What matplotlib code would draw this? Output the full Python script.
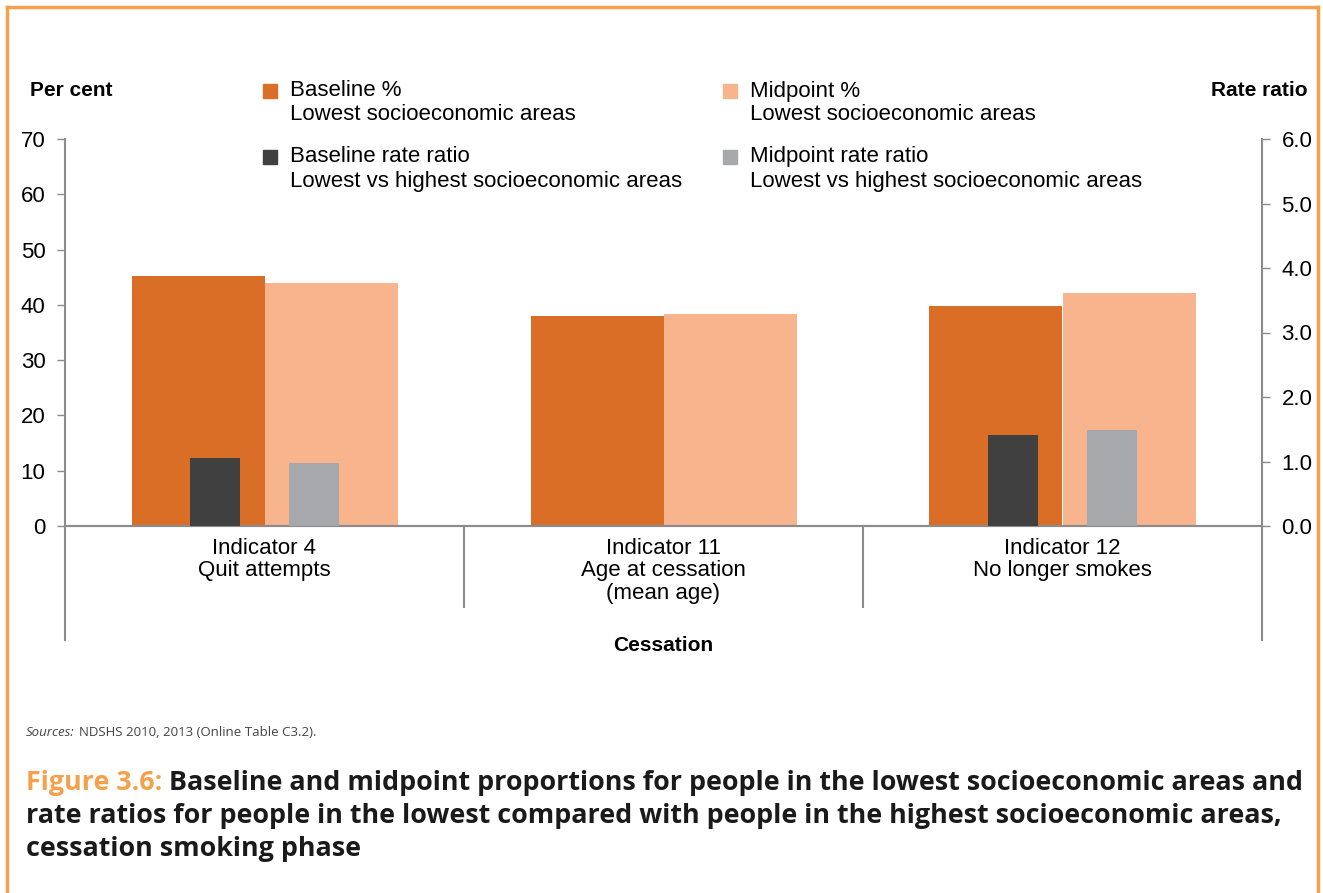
import numpy as np
import matplotlib
matplotlib.use('Agg')
import matplotlib.pyplot as plt
from matplotlib.patches import Rectangle
from matplotlib.lines import Line2D
import matplotlib.transforms as mtransforms

# data
categories = ['Indicator 4\nQuit attempts', 'Indicator 11\nAge at cessation\n(mean age)',
              'Indicator 12\nNo longer smokes']
baseline_pct = [45.3, 38.0, 39.8]
midpoint_pct = [44.0, 38.4, 42.1]
baseline_rr = [1.06, np.nan, 1.41]
midpoint_rr = [0.98, np.nan, 1.49]

c_base = '#DB6E26'
c_mid = '#F8B48C'
c_rr_base = '#404040'
c_rr_mid = '#A7A8AB'
c_axis = '#8C8C8C'
c_frame = '#F5A04A'

plt.rcParams['font.family'] = ['Liberation Sans', 'DejaVu Sans']

W, H = 1323, 893
fig = plt.figure(figsize=(W / 100, H / 100), dpi=100)
ax = fig.add_axes([65 / W, 1 - 526 / H, (1262 - 65) / W, (526 - 139) / H])
ax2 = ax.twinx()

x = np.arange(len(categories))
ax.bar(x - 1 / 6, baseline_pct, width=1 / 3, color=c_base, zorder=2)
ax.bar(x + 1 / 6, midpoint_pct, width=1 / 3, color=c_mid, zorder=2)
ax2.bar(x - 0.125, baseline_rr, width=0.125, color=c_rr_base, zorder=3)
ax2.bar(x + 0.125, midpoint_rr, width=0.125, color=c_rr_mid, zorder=3)

ax.set_xlim(-0.5, len(categories) - 0.5)
ax.set_ylim(0, 70)
ax2.set_ylim(0, 6)
ax.set_yticks(np.arange(0, 71, 10))
ax2.set_yticks(np.arange(0, 6.1, 1))
ax2.set_yticklabels(['%.1f' % v for v in np.arange(0, 6.1, 1)])
ax.set_xticks([])

for a in (ax, ax2):
    a.spines['top'].set_visible(False)
    for s in ('left', 'right', 'bottom'):
        a.spines[s].set_color(c_axis)
        a.spines[s].set_linewidth(1.5)
    a.tick_params(axis='y', colors=c_axis, labelcolor='black', labelsize=16,
                  length=6, width=1, pad=8)
ax.spines['right'].set_visible(False)
ax2.spines['left'].set_visible(False)
ax.patch.set_visible(False)

# category separators under the axis
trans = mtransforms.blended_transform_factory(ax.transData, ax.transAxes)
for b in np.arange(0.5, len(categories) - 1, 1):
    ax.add_line(Line2D([b, b], [0, -0.209], transform=trans, color=c_axis,
                       lw=1.5, clip_on=False))
for b in (-0.5, len(categories) - 0.5):
    ax.add_line(Line2D([b, b], [0, -0.295], transform=trans, color=c_axis,
                       lw=1.5, clip_on=False))

for i, lab in enumerate(categories):
    ax.text(i, -0.03, lab, transform=trans, ha='center', va='top',
            fontsize=16, linespacing=1.1)
ax.text(1, -0.31, 'Cessation', transform=trans, ha='center', va='center',
        fontsize=15, fontweight='bold')

fig.text(30 / W, 1 - 91 / H, 'Per cent', fontsize=15, fontweight='bold',
         ha='left', va='center')
fig.text(1308 / W, 1 - 91 / H, 'Rate ratio', fontsize=15, fontweight='bold',
         ha='right', va='center')

# legend
leg = [
    (263, 91, c_base, 'Baseline %', 'Lowest socioeconomic areas'),
    (723, 91, c_mid, 'Midpoint %', 'Lowest socioeconomic areas'),
    (263, 157, c_rr_base, 'Baseline rate ratio', 'Lowest vs highest socioeconomic areas'),
    (723, 157, c_rr_mid, 'Midpoint rate ratio', 'Lowest vs highest socioeconomic areas'),
]
for px, py, col, l1, l2 in leg:
    fig.add_artist(Rectangle((px / W, 1 - (py + 7) / H), 14 / W, 14 / H,
                             transform=fig.transFigure, color=col))
    fig.text((px + 27) / W, 1 - py / H, l1, fontsize=16, ha='left', va='center')
    fig.text((px + 27) / W, 1 - (py + 24) / H, l2, fontsize=16, ha='left', va='center')

# frame
for xs, ys in [([7, 1318], [7, 7]), ([7, 7], [7, 893]), ([1318, 1318], [7, 893])]:
    fig.add_artist(Line2D([v / W for v in xs], [1 - v / H for v in ys],
                          transform=fig.transFigure, color=c_frame, lw=2.5))

# sources and caption
src = fig.text(26 / W, 1 - 733 / H, 'Sources:', fontsize=9.5, style='italic',
               color='#444444', ha='left', va='center', family=['Open Sans'])
ax.annotate('NDSHS 2010, 2013 (Online Table C3.2).', xy=(1, 0), xycoords=src,
            xytext=(3, 0), textcoords='offset points',
            va='bottom', ha='left', fontsize=9.5, color='#444444', family=['Open Sans'])

cap_kw = dict(fontsize=19.4, fontweight='bold', family=['Open Sans'], va='center')
t1 = fig.text(26 / W, 1 - 783 / H, 'Figure 3.6:', color=c_frame, ha='left', **cap_kw)
ax.annotate('Baseline and midpoint proportions for people in the lowest socioeconomic areas and',
            xy=(1, 0), xycoords=t1, xytext=(5, 0), textcoords='offset points',
            ha='left', fontsize=19.4, fontweight='bold',
            family=['Open Sans'], va='bottom', color='#1a1a1a')
fig.text(26 / W, 1 - 816 / H,
         'rate ratios for people in the lowest compared with people in the highest socioeconomic areas,',
         color='#1a1a1a', ha='left', **cap_kw)
fig.text(26 / W, 1 - 849 / H, 'cessation smoking phase', color='#1a1a1a', ha='left', **cap_kw)

fig.savefig('out.png', dpi=100)
